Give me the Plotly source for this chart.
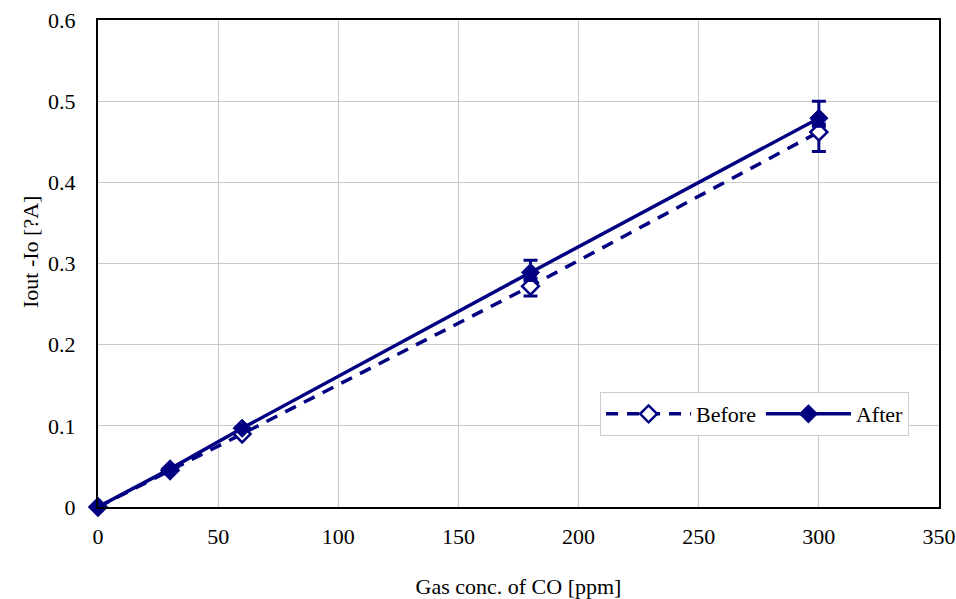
import plotly.graph_objects as go

conc = [0, 30, 60, 180, 300]
before = [0.0, 0.045, 0.090, 0.272, 0.462]
after = [0.0, 0.047, 0.097, 0.289, 0.479]
before_err_plus = [0, 0, 0, 0.01, 0.01]
before_err_minus = [0, 0, 0, 0.012, 0.024]
after_err_plus = [0, 0, 0, 0.015, 0.021]
after_err_minus = [0, 0, 0, 0.01, 0.01]

navy = "#000080"
font = "Liberation Serif"

fig = go.Figure()
fig.add_trace(go.Scatter(
    x=conc, y=before, name="Before", mode="lines+markers",
    line=dict(color=navy, width=3.5, dash="12px,9px"),
    marker=dict(symbol="diamond", size=13, color="white", line=dict(color=navy, width=2.5)),
    error_y=dict(type="data", array=before_err_plus, arrayminus=before_err_minus,
                 color=navy, thickness=3, width=7),
    cliponaxis=False,
))
fig.add_trace(go.Scatter(
    x=conc, y=after, name="After", mode="lines+markers",
    line=dict(color=navy, width=3.5),
    marker=dict(symbol="diamond", size=14, color=navy, line=dict(color=navy, width=1)),
    error_y=dict(type="data", array=after_err_plus, arrayminus=after_err_minus,
                 color=navy, thickness=3, width=7),
    cliponaxis=False,
))

fig.update_layout(
    width=956, height=599,
    margin=dict(l=98, r=17, t=20, b=92, autoexpand=False),
    paper_bgcolor="white", plot_bgcolor="white",
    font=dict(family=font, size=22, color="black"),
    showlegend=True,
    legend=dict(orientation="h", x=0.597, y=0.236, xanchor="left", yanchor="top",
                bordercolor="#cccccc", borderwidth=1, bgcolor="white",
                font=dict(family=font, size=22), itemwidth=85),
    annotations=[dict(text="Iout -Io [?A]", xref="paper", yref="paper",
                      x=-0.0809, y=0.5236, textangle=-90, showarrow=False,
                      font=dict(family=font, size=22), xanchor="center", yanchor="middle")],
)
fig.update_xaxes(
    range=[0, 350], tickmode="linear", dtick=50, tick0=0,
    showgrid=True, gridcolor="#c8c8c8", gridwidth=1,
    showline=True, linecolor="black", linewidth=2, mirror=True,
    zeroline=False, ticks="outside", ticklen=9, tickcolor="rgba(0,0,0,0)",
    automargin=False, ticklabeloverflow="allow",
    title=dict(text="Gas conc. of CO [ppm]", font=dict(family=font, size=22), standoff=30),
)
fig.update_yaxes(
    range=[0, 0.6], tickmode="linear", dtick=0.1, tick0=0,
    showgrid=True, gridcolor="#c8c8c8", gridwidth=1,
    showline=True, linecolor="black", linewidth=2, mirror=True,
    zeroline=False, ticks="outside", ticklen=16, tickcolor="rgba(0,0,0,0)",
    automargin=False, ticklabeloverflow="allow",
)

fig.write_html("out.html", config={"displayModeBar": False},
               post_script="document.body.style.margin='0';")
